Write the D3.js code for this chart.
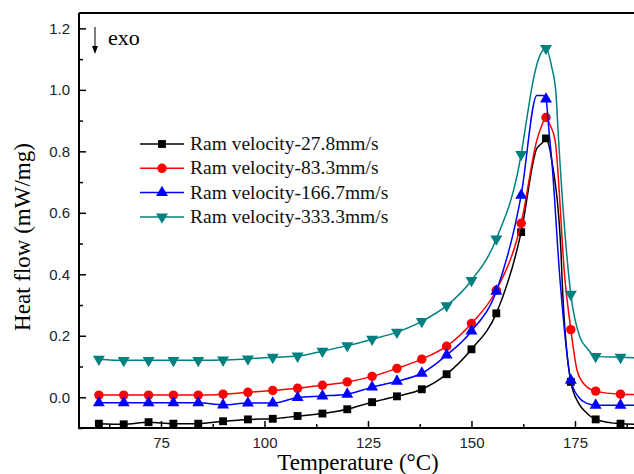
<!DOCTYPE html>
<html>
<head>
<meta charset="utf-8">
<script src="https://cdn.jsdelivr.net/npm/d3@7"></script>
<style>
  body { margin: 0; background: #fff; }
  svg { display: block; overflow: hidden; }
</style>
</head>
<body>
<div id="chart"></div>
<script>
// marker temperatures (°C)
const temps = [60, 66, 72, 78, 84, 90, 96, 102, 108, 114, 120, 126, 132, 138, 144, 150, 156, 162, 168, 174, 180, 186, 192];

// heat flow (mW/mg)
const v27 = [-0.086, -0.088, -0.081, -0.086, -0.086, -0.078, -0.072, -0.070, -0.061, -0.053, -0.039, -0.016, 0.003, 0.026, 0.075, 0.156, 0.273, 0.537, 0.842, 0.050, -0.072, -0.086, -0.088];
const v83 = [0.007, 0.007, 0.007, 0.007, 0.007, 0.010, 0.016, 0.022, 0.029, 0.039, 0.050, 0.068, 0.094, 0.124, 0.166, 0.240, 0.348, 0.566, 0.910, 0.220, 0.020, 0.010, 0.008];
const v166 = [-0.018, -0.018, -0.018, -0.018, -0.018, -0.025, -0.019, -0.019, -0.001, 0.004, 0.010, 0.033, 0.052, 0.078, 0.137, 0.215, 0.345, 0.657, 0.970, 0.055, -0.026, -0.026, -0.027];
const v333 = [0.124, 0.120, 0.120, 0.120, 0.120, 0.121, 0.125, 0.130, 0.134, 0.150, 0.168, 0.189, 0.212, 0.247, 0.298, 0.380, 0.515, 0.790, 1.135, 0.335, 0.133, 0.130, 0.128];

// extra line points around the peak (no marker), [T, value]
const peak27 = [[165.8, 0.81], [167, 0.826], [168.7, 0.82], [169.4, 0.77], [171.6, 0.478], [171.9, 0.38], [175.9, -0.02], [177.9, -0.052]];
const peak83 = [[165.8, 0.836], [167, 0.885], [169, 0.885], [170.2, 0.836], [172.6, 0.38], [175.5, 0.088], [177.4, 0.04]];
const peak166 = [[165.8, 0.982], [167.3, 0.982], [168.7, 0.87], [169.4, 0.77], [171.4, 0.38], [175.9, 0.0], [177.9, -0.02]];
const peak333 = [[163.4, 0.91], [164.9, 1.03], [166.1, 1.096], [169.4, 1.073], [170.4, 0.99], [170.9, 0.87], [172.6, 0.53], [176.2, 0.195], [177.9, 0.16]];

const seriesNames = ["Ram velocity-27.8mm/s", "Ram velocity-83.3mm/s", "Ram velocity-166.7mm/s", "Ram velocity-333.3mm/s"];
const seriesColors = ["#000000", "#ff0000", "#0000ff", "#008080"];

const yTicks = [0.0, 0.2, 0.4, 0.6, 0.8, 1.0, 1.2];
const yMinor = [-0.1, 0.1, 0.3, 0.5, 0.7, 0.9, 1.1];
const xTicks = [75, 100, 125, 150, 175];
const xMinor = [62.5, 87.5, 112.5, 137.5, 162.5, 187.5];

const W = 634, H = 474;
const plotLeft = 79, plotTop = 13, plotBottom = 428;

const svg = d3.select("#chart").append("svg")
    .attr("width", W)
    .attr("height", H);

const x = d3.scaleLinear().domain([55.2, 195]).range([plotLeft, plotLeft + (195 - 55.2) * 4.14]);
const y = d3.scaleLinear().domain([-0.1, 1.25]).range([plotBottom, plotTop]);

svg.append("clipPath").attr("id", "clip")
    .append("rect")
    .attr("x", plotLeft).attr("y", plotTop)
    .attr("width", x(195) - plotLeft).attr("height", plotBottom - plotTop);

const fmt = d3.format(".1f");

// axes with inward ticks
svg.append("g")
    .attr("transform", `translate(${plotLeft},0)`)
    .call(d3.axisLeft(y).tickValues(yTicks).tickSize(-7).tickPadding(9).tickFormat(fmt));
svg.append("g")
    .attr("transform", `translate(${plotLeft},0)`)
    .call(d3.axisLeft(y).tickValues(yMinor).tickSize(-4).tickFormat(""));

svg.append("g")
    .attr("transform", `translate(0,${plotBottom})`)
    .call(d3.axisBottom(x).tickValues(xTicks).tickSize(-7).tickPadding(9));
svg.append("g")
    .attr("transform", `translate(0,${plotBottom})`)
    .call(d3.axisBottom(x).tickValues(xMinor).tickSize(-4).tickFormat(""));

svg.selectAll(".domain").remove();
svg.selectAll(".tick line").attr("stroke", "#000").attr("stroke-width", 1.5);
svg.selectAll(".tick text")
    .attr("fill", "#222")
    .style("font-family", "'Liberation Sans', Arial, sans-serif")
    .style("font-size", "15px");

// frame
svg.append("path")
    .attr("d", `M${plotLeft},${plotTop}H${W + 10}M${plotLeft},${plotTop}V${plotBottom}H${W + 10}`)
    .attr("fill", "none")
    .attr("stroke", "#000")
    .attr("stroke-width", 2);

// series
const allValues = [v27, v83, v166, v333];
const allPeaks = [peak27, peak83, peak166, peak333];

const symbols = [
    d3.symbol().type(d3.symbolSquare).size(62),
    d3.symbol().type(d3.symbolCircle).size(70),
    d3.symbol().type(d3.symbolTriangle).size(62),
    d3.symbol().type(d3.symbolTriangle).size(62)
];
const rot = [0, 0, 0, 180];

const line = d3.line()
    .x(d => x(d[0]))
    .y(d => y(d[1]))
    .curve(d3.curveMonotoneX);

const plot = svg.append("g").attr("clip-path", "url(#clip)");

allValues.forEach((vals, i) => {
    const pts = temps.map((t, k) => [t, vals[k]]).concat(allPeaks[i]).sort((a, b) => a[0] - b[0]);
    plot.append("path")
        .datum(pts)
        .attr("fill", "none")
        .attr("stroke", seriesColors[i])
        .attr("stroke-width", 1.5)
        .attr("d", line);

    plot.selectAll(".m" + i)
        .data(temps.map((t, k) => [t, vals[k]]))
        .enter().append("path")
        .attr("class", "m" + i)
        .attr("d", symbols[i])
        .attr("fill", seriesColors[i])
        .attr("transform", d => `translate(${x(d[0])},${y(d[1])}) rotate(${rot[i]})`);
});

// legend
const legend = svg.append("g");
seriesNames.forEach((name, i) => {
    const ly = 144 + i * 24.3;
    legend.append("line")
        .attr("x1", 140).attr("x2", 184)
        .attr("y1", ly).attr("y2", ly)
        .attr("stroke", seriesColors[i])
        .attr("stroke-width", 1.5);
    legend.append("path")
        .attr("d", symbols[i])
        .attr("fill", seriesColors[i])
        .attr("transform", `translate(162,${ly}) rotate(${rot[i]})`);
    legend.append("text")
        .attr("x", 190)
        .attr("y", ly + 6)
        .text(name)
        .style("font-family", "'Liberation Serif', 'Times New Roman', serif")
        .style("font-size", "19.5px")
        .attr("fill", "#111");
});

// exo arrow
svg.append("line")
    .attr("x1", 95).attr("x2", 95)
    .attr("y1", 27).attr("y2", 48)
    .attr("stroke", "#000").attr("stroke-width", 1);
svg.append("path")
    .attr("d", "M92,46L98,46L95,54Z")
    .attr("fill", "#000");
svg.append("text")
    .attr("x", 108).attr("y", 45)
    .text("exo")
    .style("font-family", "'Liberation Serif', 'Times New Roman', serif")
    .style("font-size", "22px");

// axis titles
svg.append("text")
    .attr("x", 358).attr("y", 470)
    .attr("text-anchor", "middle")
    .style("font-family", "'Liberation Serif', 'Times New Roman', serif")
    .style("font-size", "23px")
    .text("Temperature (°C)");

svg.append("text")
    .attr("transform", "translate(30,237) rotate(-90)")
    .attr("text-anchor", "middle")
    .style("font-family", "'Liberation Serif', 'Times New Roman', serif")
    .style("font-size", "23px")
    .text("Heat flow (mW/mg)");
</script>
</body>
</html>
